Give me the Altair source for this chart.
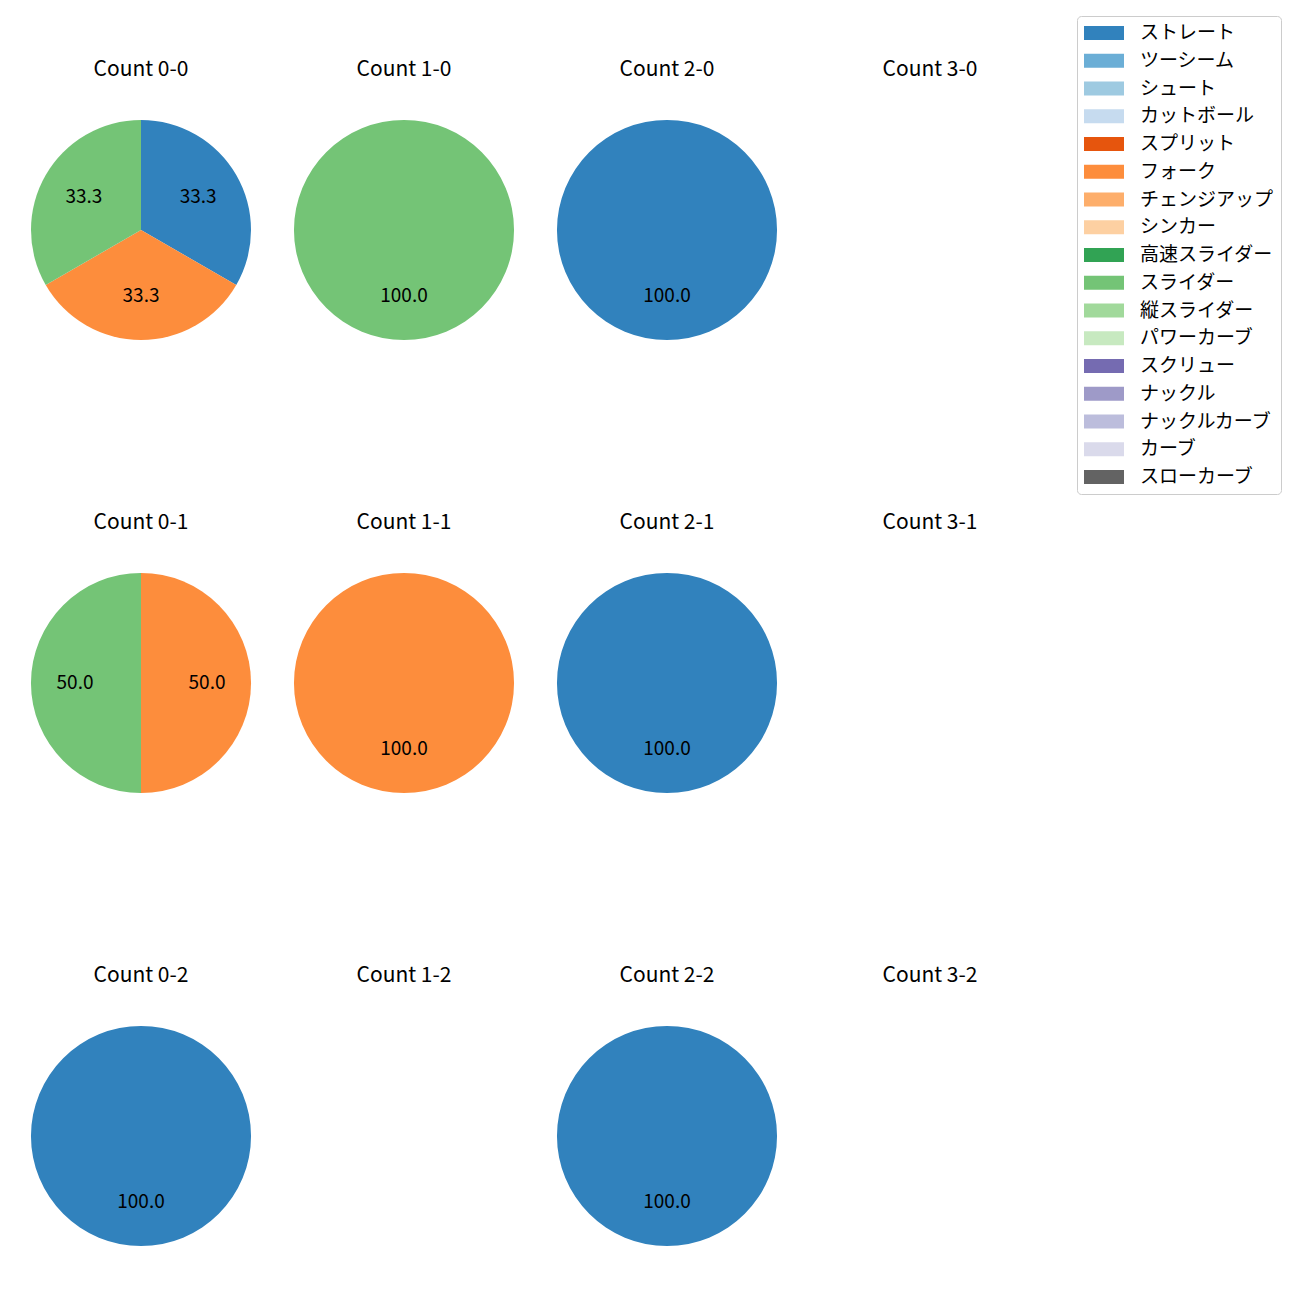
import altair as alt
import pandas as pd

FONT = "Noto Sans CJK JP"

pitch_types = ["ストレート", "ツーシーム", "シュート", "カットボール", "スプリット", "フォーク",
               "チェンジアップ", "シンカー", "高速スライダー", "スライダー", "縦スライダー",
               "パワーカーブ", "スクリュー", "ナックル", "ナックルカーブ", "カーブ", "スローカーブ"]
colors = ["#3182bd", "#6baed6", "#9ecae1", "#c6dbef", "#e6550d", "#fd8d3c", "#fdae6b",
          "#fdd0a2", "#31a354", "#74c476", "#a1d99b", "#c7e9c0", "#756bb1", "#9e9ac8",
          "#bcbddc", "#dadaeb", "#636363"]

panel_titles = ["Count 0-0", "Count 1-0", "Count 2-0", "Count 3-0",
                "Count 0-1", "Count 1-1", "Count 2-1", "Count 3-1",
                "Count 0-2", "Count 1-2", "Count 2-2", "Count 3-2"]
panel_pitches = [["ストレート", "フォーク", "スライダー"], ["スライダー"], ["ストレート"], [],
                 ["フォーク", "スライダー"], ["フォーク"], ["ストレート"], [],
                 ["ストレート"], [], ["ストレート"], []]
panel_counts = [[1, 1, 1], [1], [1], [],
                [1, 1], [1], [1], [],
                [1], [], [1], []]

rows = []
for t, ps, cs in zip(panel_titles, panel_pitches, panel_counts):
    for p, c in zip(ps, cs):
        rows.append({"panel": t, "pitch": p, "count": c, "ord": pitch_types.index(p)})
df = pd.DataFrame(rows, columns=["panel", "pitch", "count", "ord"])

color = alt.Color("pitch:N", scale=alt.Scale(domain=pitch_types, range=colors),
                  legend=alt.Legend(title=None))

def panel(title):
    base = alt.Chart(df).transform_filter(alt.datum.panel == title).transform_joinaggregate(
        total="sum(count)").transform_calculate(pct="datum.count / datum.total * 100")
    arc = base.mark_arc(outerRadius=110, stroke=None).encode(
        theta=alt.Theta("count:Q", stack="normalize"),
        color=color,
        order=alt.Order("ord:Q"),
    )
    txt = base.mark_text(radius=66, font=FONT, fontSize=19, color="black").encode(
        theta=alt.Theta("count:Q", stack="normalize"),
        order=alt.Order("ord:Q"),
        text=alt.Text("pct:Q", format=".1f"),
    )
    return alt.layer(arc, txt).properties(width=220, height=220, title=title)

grid_rows = []
for r in range(3):
    grid_rows.append(alt.hconcat(*[panel(panel_titles[r * 4 + c]) for c in range(4)], spacing=43))

chart = alt.vconcat(*grid_rows, spacing=172).properties(
    padding={"left": 23, "top": 7, "right": 5, "bottom": 5}
).configure_view(stroke=None).configure_title(
    font=FONT, fontSize=21, fontWeight="normal", color="black", offset=40
).configure_legend(
    orient="none", legendX=1046, legendY=-104,
    symbolType="M-1,-0.7H3V0.7H-1Z", symbolSize=400, symbolStrokeWidth=0,
    labelFont=FONT, labelFontSize=19, labelColor="black", labelOffset=36,
    strokeColor="#cccccc", cornerRadius=4, padding=7, rowPadding=7.75,
).configure_arc(stroke=None)

chart.save("out.html", embed_options={"renderer": "svg", "actions": False})
